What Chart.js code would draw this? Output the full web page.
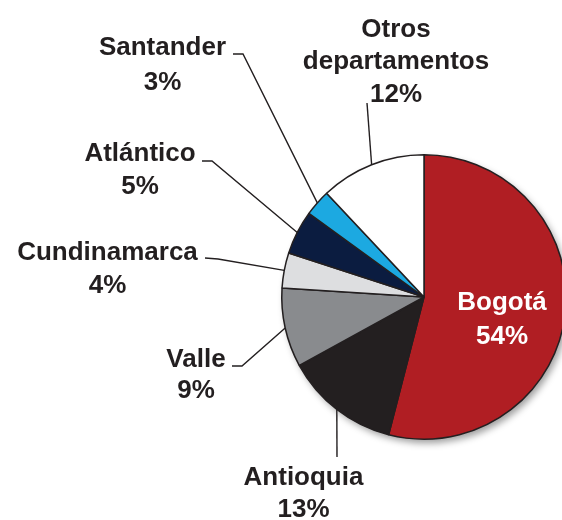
<!DOCTYPE html>
<html><head><meta charset="utf-8">
<script src="https://cdn.jsdelivr.net/npm/chart.js@4/dist/chart.umd.min.js"></script>
<style>
html,body{margin:0;padding:0;background:#fff;overflow:hidden;width:562px;height:520px}
#wrap{position:absolute;left:0;top:0;width:600px;height:520px}
canvas{display:block}
</style>
</head><body><div id="wrap"><canvas id="c" width="600" height="520" style="width:600px;height:520px"></canvas></div>
<script>
// ---- data ----
const categories = ['Bogotá', 'Antioquia', 'Valle', 'Cundinamarca', 'Atlántico', 'Santander', 'Otros departamentos'];
const shares = [54, 13, 9, 4, 5, 3, 12];
const sliceColors = ['#B01E23', '#231F20', '#898B8E', '#DDDEE0', '#0B1C40', '#1CA9E1', '#FFFFFF'];

// ---- label layout (text placement only) ----
const labelLayout = [
  { x: 502, baselines: [310, 344], color: '#FFFFFF', leader: null, split: false },
  { x: 303.5, baselines: [485, 517], color: '#231F20', leader: [[337, 457]], split: false },
  { x: 196, baselines: [367, 398], color: '#231F20', leader: [[232, 366], [242, 366]], split: false },
  { x: 107.5, baselines: [260, 293], color: '#231F20', leader: [[205, 258], [218, 259]], split: false },
  { x: 140, baselines: [161, 194], color: '#231F20', leader: [[202, 161], [212, 161]], split: false },
  { x: 162.5, baselines: [55, 90], color: '#231F20', leader: [[233, 54], [243, 54]], split: false },
  { x: 396, baselines: [37, 69, 102], color: '#231F20', leader: [[367, 103]], split: true }
];
const FONT = 'bold 26px "Liberation Sans", Arial, sans-serif';

const shadowPlugin = {
  id: 'pieShadow',
  beforeDatasetsDraw(chart) {
    const arc = chart.getDatasetMeta(0).data[0];
    if (!arc) return;
    const ctx = chart.ctx;
    ctx.save();
    ctx.shadowColor = 'rgba(0,0,0,0.38)';
    ctx.shadowBlur = 7;
    ctx.shadowOffsetX = 3;
    ctx.shadowOffsetY = 4;
    ctx.beginPath();
    ctx.arc(arc.x, arc.y, arc.outerRadius, 0, Math.PI * 2);
    ctx.fillStyle = '#ffffff';
    ctx.fill();
    ctx.restore();
  }
};

const labelPlugin = {
  id: 'pieLabels',
  afterDatasetsDraw(chart) {
    const ctx = chart.ctx;
    const meta = chart.getDatasetMeta(0);
    ctx.save();
    meta.data.forEach((arc, i) => {
      const lay = labelLayout[i];
      const mid = (arc.startAngle + arc.endAngle) / 2;
      const px = arc.x + Math.cos(mid) * arc.outerRadius;
      const py = arc.y + Math.sin(mid) * arc.outerRadius;
      if (lay.leader) {
        ctx.beginPath();
        ctx.moveTo(lay.leader[0][0], lay.leader[0][1]);
        for (let k = 1; k < lay.leader.length; k++) ctx.lineTo(lay.leader[k][0], lay.leader[k][1]);
        ctx.lineTo(px, py);
        ctx.strokeStyle = '#231F20';
        ctx.lineWidth = 1.4;
        ctx.stroke();
      }
      let lines;
      const name = categories[i];
      if (lay.split) {
        const sp = name.indexOf(' ');
        lines = [name.slice(0, sp), name.slice(sp + 1)];
      } else {
        lines = [name];
      }
      lines.push(shares[i] + '%');
      ctx.font = FONT;
      ctx.fillStyle = lay.color;
      ctx.textAlign = 'center';
      ctx.textBaseline = 'alphabetic';
      lines.forEach((t, k) => ctx.fillText(t, lay.x, lay.baselines[k]));
    });
    ctx.restore();
  }
};

const cx = 424, cy = 297, r = 143, W = 600, H = 520;
new Chart(document.getElementById('c'), {
  type: 'pie',
  data: {
    labels: categories,
    datasets: [{
      data: shares,
      backgroundColor: sliceColors,
      borderColor: '#231F20',
      borderWidth: 1.5
    }]
  },
  options: {
    responsive: false,
    devicePixelRatio: 1,
    animation: false,
    layout: { padding: { left: cx - r, right: W - (cx + r), top: cy - r, bottom: H - (cy + r) } },
    plugins: { legend: { display: false }, tooltip: { enabled: false } }
  },
  plugins: [shadowPlugin, labelPlugin]
});
</script>
</body></html>
